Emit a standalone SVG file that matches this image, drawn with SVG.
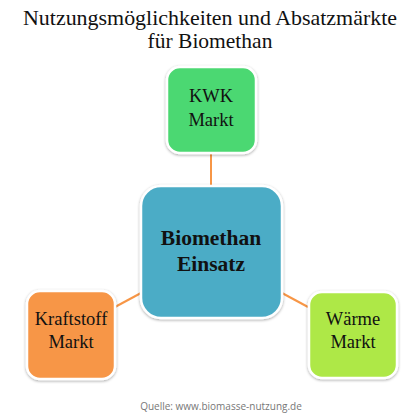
<svg xmlns="http://www.w3.org/2000/svg" width="420" height="420" viewBox="0 0 420 420">
<defs>
<filter id="sh" x="-20%" y="-20%" width="140%" height="140%">
<feGaussianBlur in="SourceAlpha" stdDeviation="1.5"/>
<feOffset dx="0" dy="1" result="b"/>
<feComponentTransfer><feFuncA type="linear" slope="0.35"/></feComponentTransfer>
<feMerge><feMergeNode/><feMergeNode in="SourceGraphic"/></feMerge>
</filter>
<style>
.box{stroke:#fff;stroke-width:2.5;filter:url(#sh)}
.t{font-family:"Liberation Serif","DejaVu Serif",serif;fill:#111;text-anchor:middle}
.n{font-size:18.5px}
.c{font-size:21.5px;font-weight:bold}
.con{stroke:#F79646;stroke-width:2;fill:none}
</style>
</defs>
<rect width="420" height="420" fill="#fff"/>
<text class="t" x="210" y="25" font-size="21.5" textLength="374" lengthAdjust="spacingAndGlyphs">Nutzungsmöglichkeiten und Absatzmärkte</text>
<text class="t" x="210" y="48" font-size="21.5">für Biomethan</text>
<g id="connectors">
<line class="con" x1="211" y1="153" x2="211" y2="186"/>
<line class="con" x1="115" y1="307" x2="141" y2="293"/>
<line class="con" x1="282" y1="293" x2="308" y2="307"/>
</g>
<g id="kwk">
<rect class="box" x="167" y="67" width="89" height="86" rx="13" fill="#4CD872"/>
<text class="t n" x="211" y="102">KWK</text>
<text class="t n" x="211" y="126">Markt</text>
</g>
<g id="center">
<rect class="box" x="141" y="186" width="141" height="132" rx="20" fill="#4BACC6"/>
<text class="t c" x="211" y="245">Biomethan</text>
<text class="t c" x="211" y="271">Einsatz</text>
</g>
<g id="kraftstoff">
<rect class="box" x="27" y="291" width="88" height="88" rx="13" fill="#F79646"/>
<text class="t n" x="71" y="325">Kraftstoff</text>
<text class="t n" x="71" y="348">Markt</text>
</g>
<g id="waerme">
<rect class="box" x="309" y="292" width="88" height="86" rx="13" fill="#AEE847"/>
<text class="t n" x="353" y="325">Wärme</text>
<text class="t n" x="353" y="348">Markt</text>
</g>
<text x="221" y="410" font-family="'Open Sans','DejaVu Sans',sans-serif" font-size="10" fill="#777" text-anchor="middle">Quelle: www.biomasse-nutzung.de</text>
</svg>
